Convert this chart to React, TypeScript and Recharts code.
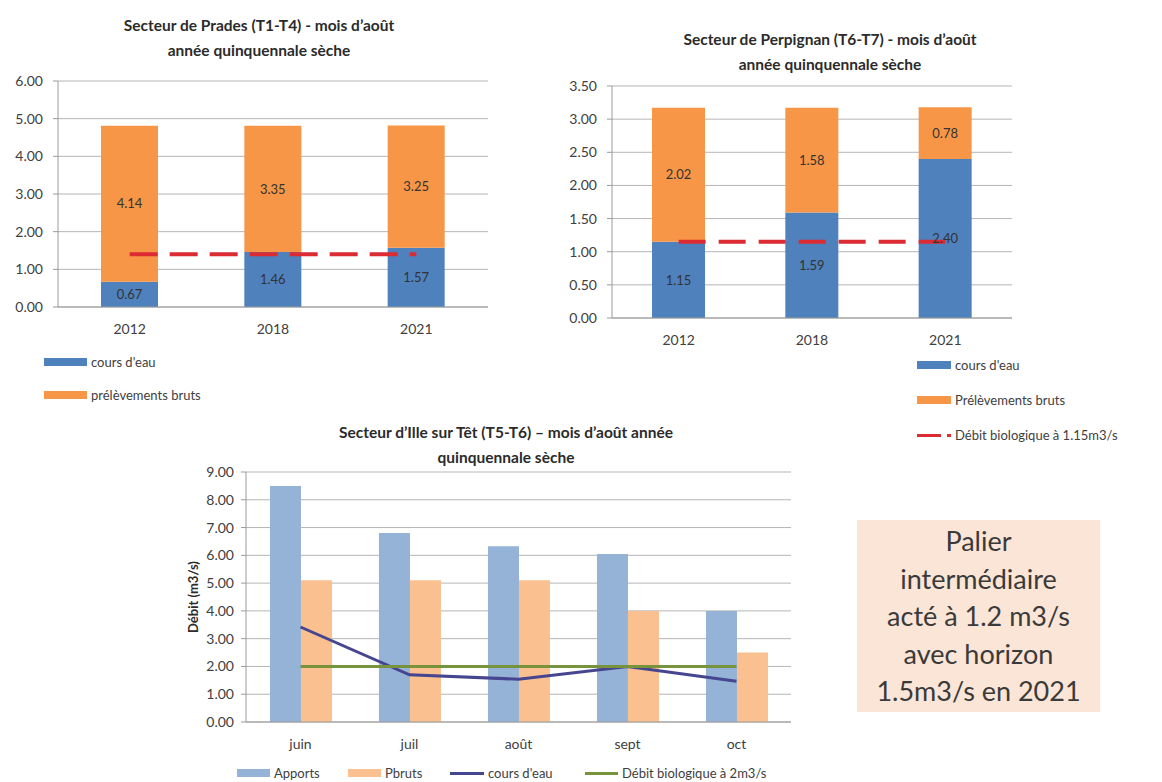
import React from 'react';
import {
  ComposedChart,
  Bar,
  Line,
  XAxis,
  YAxis,
  CartesianGrid,
  LabelList,
} from 'recharts';

// Prades (T1-T4)
const years = ['2012', '2018', '2021'];
const pradesCoursEau = [0.67, 1.46, 1.57];
const pradesPrelevements = [4.14, 3.35, 3.25];
const pradesDebitBio = [1.4, 1.4, 1.4];
const pradesTicks = [0, 1, 2, 3, 4, 5, 6];

// Perpignan (T6-T7)
const perpCoursEau = [1.15, 1.59, 2.4];
const perpPrelevements = [2.02, 1.58, 0.78];
const perpDebitBio = [1.15, 1.15, 1.15];
const perpTicks = [0, 0.5, 1, 1.5, 2, 2.5, 3, 3.5];

// Ille sur Têt (T5-T6)
const months = ['juin', 'juil', 'août', 'sept', 'oct'];
const apports = [8.5, 6.8, 6.33, 6.05, 4.0];
const pbruts = [5.1, 5.1, 5.1, 4.0, 2.5];
const coursEau = [3.42, 1.7, 1.54, 2.0, 1.47];
const debitBio2 = [2, 2, 2, 2, 2];
const illeTicks = [0, 1, 2, 3, 4, 5, 6, 7, 8, 9];

const pradesData = years.map((y, i) => ({
  year: y,
  cours: pradesCoursEau[i],
  prel: pradesPrelevements[i],
  debit: pradesDebitBio[i],
}));
const perpData = years.map((y, i) => ({
  year: y,
  cours: perpCoursEau[i],
  prel: perpPrelevements[i],
  debit: perpDebitBio[i],
}));
const illeData = months.map((m, i) => ({
  month: m,
  apports: apports[i],
  pbruts: pbruts[i],
  cours: coursEau[i],
  debit: debitBio2[i],
}));

const FONT = 'Lato, "Open Sans", sans-serif';
const BLUE = '#4f81bd';
const ORANGE = '#f79646';
const RED = '#dc2b33';
const LIGHT_BLUE = '#95b3d7';
const LIGHT_ORANGE = '#fac090';
const INDIGO = '#46458f';
const GREEN = '#77933c';
const GRID = '#b5b5b5';
const AXIS = '#9a9a9a';
const TXT = '#404040';

const fmt = (v: number) => Number(v).toFixed(2);

const Title = ({ lines, cx, top }: { lines: string[]; cx: number; top: number }) => (
  <div
    style={{
      position: 'absolute',
      left: cx - 260,
      top,
      width: 520,
      textAlign: 'center',
      fontFamily: FONT,
      fontWeight: 700,
      fontSize: 15.5,
      lineHeight: '25px',
      color: '#2b2b2b',
    }}
  >
    {lines.map((l) => (
      <div key={l}>{l}</div>
    ))}
  </div>
);

const LegendItem = ({
  x,
  y,
  w,
  color,
  label,
  kind,
}: {
  x: number;
  y: number;
  w: number;
  color: string;
  label: string;
  kind: 'box' | 'line' | 'dash';
}) => (
  <div
    style={{
      position: 'absolute',
      left: x,
      top: y - 9,
      height: 18,
      display: 'flex',
      alignItems: 'center',
      fontFamily: FONT,
      fontSize: 13,
      color: TXT,
      whiteSpace: 'nowrap',
    }}
  >
    {kind === 'dash' ? (
      <span style={{ display: 'flex', alignItems: 'center', width: w, marginRight: 4 }}>
        <span style={{ width: w - 10, height: 3, background: color }} />
        <span style={{ width: 4, height: 3, marginLeft: 6, background: color }} />
      </span>
    ) : (
      <span
        style={{
          display: 'inline-block',
          width: w,
          height: kind === 'box' ? 8 : 3,
          background: color,
          marginRight: 4,
        }}
      />
    )}
    {label}
  </div>
);

const tickStyle = { fill: TXT, fontSize: 14, fontFamily: FONT };
const labelStyle = { fill: '#333', fontSize: 13, fontFamily: FONT };

const StackedChart = ({
  data,
  width,
  height,
  margin,
  yWidth,
  domain,
  ticks,
  dash,
}: any) => (
  <ComposedChart width={width} height={height} data={data} margin={margin} barCategoryGap="30%">
    <CartesianGrid vertical={false} stroke={GRID} />
    <XAxis
      dataKey="year"
      height={30}
      tick={tickStyle}
      tickLine={false}
      tickSize={0}
      tickMargin={17}
      axisLine={{ stroke: AXIS }}
    />
    <YAxis
      width={yWidth}
      domain={domain}
      ticks={ticks}
      interval={0}
      tickFormatter={fmt}
      tick={tickStyle}
      tickSize={5}
      tickMargin={10}
      tickLine={{ stroke: AXIS }}
      axisLine={{ stroke: AXIS }}
    />
    <Bar dataKey="cours" stackId="s" fill={BLUE} isAnimationActive={false}>
      <LabelList dataKey="cours" position="center" formatter={fmt} style={labelStyle} />
    </Bar>
    <Bar dataKey="prel" stackId="s" fill={ORANGE} isAnimationActive={false}>
      <LabelList dataKey="prel" position="center" formatter={fmt} style={labelStyle} />
    </Bar>
    <Line
      dataKey="debit"
      stroke={RED}
      strokeWidth={4}
      strokeDasharray={dash}
      dot={false}
      activeDot={false}
      isAnimationActive={false}
    />
  </ComposedChart>
);

export default function App() {
  return (
    <div
      style={{
        position: 'absolute',
        left: 0,
        top: 0,
        width: 1162,
        height: 782,
        background: '#fff',
        overflow: 'hidden',
      }}
    >
      {/* Prades */}
      <Title lines={['Secteur de Prades (T1-T4) - mois d\u2019août', 'année quinquennale sèche']} cx={259} top={13} />
      <div style={{ position: 'absolute', left: 0, top: 0 }}>
        <StackedChart
          data={pradesData}
          width={500}
          height={360}
          margin={{ top: 81, right: 12, bottom: 23, left: 0 }}
          yWidth={58}
          domain={[0, 6]}
          ticks={pradesTicks}
          dash="28 12"
        />
      </div>
      <LegendItem x={44} y={362} w={43} color={BLUE} label="cours d'eau" kind="box" />
      <LegendItem x={44} y={395} w={43} color={ORANGE} label="prélèvements bruts" kind="box" />

      {/* Perpignan */}
      <Title lines={['Secteur de Perpignan (T6-T7) - mois d\u2019août', 'année quinquennale sèche']} cx={830} top={27} />
      <div style={{ position: 'absolute', left: 560, top: 0 }}>
        <StackedChart
          data={perpData}
          width={460}
          height={360}
          margin={{ top: 86, right: 8, bottom: 12, left: 0 }}
          yWidth={52}
          domain={[0, 3.5]}
          ticks={perpTicks}
          dash="27 13"
        />
      </div>
      <LegendItem x={917} y={365} w={34} color={BLUE} label="cours d'eau" kind="box" />
      <LegendItem x={917} y={400} w={34} color={ORANGE} label="Prélèvements bruts" kind="box" />
      <LegendItem x={917} y={435} w={34} color={RED} label="Débit biologique à 1.15m3/s" kind="dash" />

      {/* Ille sur Têt */}
      <Title lines={['Secteur d\u2019Ille sur Têt (T5-T6) \u2013 mois d\u2019août année', 'quinquennale sèche']} cx={506} top={420} />
      <div style={{ position: 'absolute', left: 150, top: 400 }}>
        <ComposedChart
          width={660}
          height={362}
          data={illeData}
          margin={{ top: 72, right: 19, bottom: 12, left: 0 }}
          barCategoryGap="22%"
          barGap={0}
        >
          <CartesianGrid vertical={false} stroke={GRID} />
          <XAxis
            dataKey="month"
            height={28}
            tick={tickStyle}
            tickLine={false}
            tickSize={0}
            tickMargin={17}
            axisLine={{ stroke: AXIS }}
          />
          <YAxis
            width={96}
            domain={[0, 9]}
            ticks={illeTicks}
            interval={0}
            tickFormatter={fmt}
            tick={tickStyle}
            tickSize={5}
            tickMargin={7}
            tickLine={{ stroke: AXIS }}
            axisLine={{ stroke: AXIS }}
          />
          <Bar dataKey="apports" fill={LIGHT_BLUE} isAnimationActive={false} />
          <Bar dataKey="pbruts" fill={LIGHT_ORANGE} isAnimationActive={false} />
          <Line dataKey="cours" stroke={INDIGO} strokeWidth={3} dot={false} activeDot={false} isAnimationActive={false} />
          <Line dataKey="debit" stroke={GREEN} strokeWidth={3} dot={false} activeDot={false} isAnimationActive={false} />
        </ComposedChart>
      </div>
      <div
        style={{
          position: 'absolute',
          left: 193 - 60,
          top: 597 - 10,
          width: 120,
          height: 20,
          lineHeight: '20px',
          textAlign: 'center',
          transform: 'rotate(-90deg)',
          fontFamily: FONT,
          fontWeight: 700,
          fontSize: 13,
          color: '#2b2b2b',
        }}
      >
        Débit (m3/s)
      </div>
      <LegendItem x={237} y={773} w={33} color={LIGHT_BLUE} label="Apports" kind="box" />
      <LegendItem x={348} y={773} w={33} color={LIGHT_ORANGE} label="Pbruts" kind="box" />
      <LegendItem x={450} y={773} w={34} color={INDIGO} label="cours d'eau" kind="line" />
      <LegendItem x={585} y={773} w={33} color={GREEN} label="Débit biologique à 2m3/s" kind="line" />

      {/* Text box */}
      <div
        style={{
          position: 'absolute',
          left: 857,
          top: 520,
          width: 243,
          height: 192,
          background: '#fbe5d6',
          fontFamily: FONT,
          fontSize: 27,
          lineHeight: '37.5px',
          color: '#3a3a3a',
          textAlign: 'center',
          paddingTop: 2,
          boxSizing: 'border-box',
        }}
      >
        Palier
        <br />
        intermédiaire
        <br />
        acté à 1.2 m3/s
        <br />
        avec horizon
        <br />
        1.5m3/s en 2021
      </div>
    </div>
  );
}
